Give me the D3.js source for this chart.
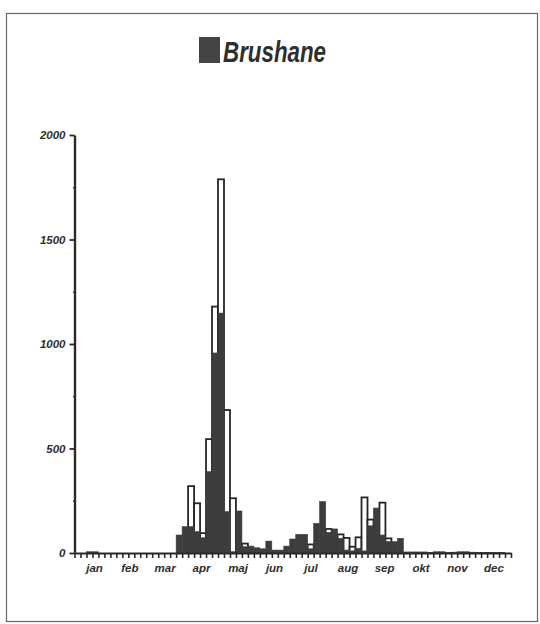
<!DOCTYPE html>
<html>
<head>
<meta charset="utf-8">
<script src="https://cdn.jsdelivr.net/npm/d3@7"></script>
<style>
  html, body { margin: 0; padding: 0; background: #fff; }
  svg { display: block; }
  text { font-family: "Liberation Sans", Arial, sans-serif; font-weight: bold; font-style: italic; fill: #2e2e2e; }
</style>
</head>
<body>
<svg id="chart" width="540" height="624"></svg>
<script>
// Month names and the day of the year each month starts on
const months = ["jan", "feb", "mar", "apr", "maj", "jun", "jul", "aug", "sep", "okt", "nov", "dec"];
const monthStart = [0, 31, 59, 90, 120, 151, 181, 212, 243, 273, 304, 334, 365];

// Y axis tick values
const yTicks = [0, 500, 1000, 1500, 2000];
const yMinorTicks = [250, 750, 1250, 1750];

// Five-day periods over the year (73 bins): Brushane counts (filled bars)
const brushane = [
  0, 0, 6, 6, 0, 0, 0, 0, 0, 0,
  0, 0, 0, 0, 0, 0, 0, 86, 126, 126,
  102, 73, 389, 957, 1148, 198, 6, 201, 30, 33,
  25, 20, 57, 14, 14, 33, 67, 89, 89, 20,
  142, 246, 99, 115, 70, 14, 10, 22, 10, 130,
  215, 86, 55, 54, 70, 5, 5, 5, 5, 3,
  6, 6, 3, 4, 6, 6, 4, 3, 3, 3,
  3, 3, 0
];

// Same periods: counts drawn as open bars behind the filled ones
const openBars = [
  0, 0, 0, 0, 0, 0, 0, 0, 0, 0,
  0, 0, 0, 0, 0, 0, 0, 0, 0, 320,
  238, 95, 545, 1179, 1788, 684, 262, 0, 45, 0,
  0, 0, 0, 0, 0, 0, 0, 0, 0, 41,
  0, 0, 115, 0, 89, 72, 30, 75, 266, 160,
  0, 241, 70, 0, 0, 0, 0, 0, 0, 0,
  0, 0, 0, 0, 0, 0, 0, 0, 0, 0,
  0, 0, 0
];

const svg = d3.select("#chart");

// Page frame
svg.append("rect")
  .attr("x", 6.5).attr("y", 13.5)
  .attr("width", 531).attr("height", 608)
  .attr("fill", "none").attr("stroke", "#666").attr("stroke-width", 1.2);

const plot = { left: 74.5, right: 511, top: 135, bottom: 553 };
const nBins = brushane.length;

const x = d3.scaleLinear().domain([0, nBins]).range([plot.left, plot.right]);
const xDay = d3.scaleLinear().domain([0, 365]).range([plot.left, plot.right]);
const y = d3.scaleLinear().domain([0, 2000]).range([plot.bottom, plot.top]);

const bins = d3.range(nBins);

// Open bars first, filled bars drawn over them
svg.append("g")
  .selectAll("rect")
  .data(bins.filter(i => openBars[i] > 0))
  .join("rect")
  .attr("x", i => x(i))
  .attr("y", i => y(openBars[i]))
  .attr("width", i => x(i + 1) - x(i))
  .attr("height", i => y(0) - y(openBars[i]))
  .attr("fill", "#fff")
  .attr("stroke", "#262626")
  .attr("stroke-width", 1.8);

svg.append("g")
  .selectAll("rect")
  .data(bins.filter(i => brushane[i] > 0))
  .join("rect")
  .attr("x", i => x(i))
  .attr("y", i => y(brushane[i]))
  .attr("width", i => x(i + 1) - x(i))
  .attr("height", i => y(0) - y(brushane[i]))
  .attr("fill", "#3d3d3d")
  .attr("stroke", "#3d3d3d")
  .attr("stroke-width", 0.6);

// Y axis with major and minor ticks
const yAxis = svg.append("g")
  .attr("transform", `translate(${plot.left},0)`)
  .call(d3.axisLeft(y).tickValues(yTicks).tickFormat(d3.format("d"))
    .tickSize(5).tickPadding(4).tickSizeOuter(0));
yAxis.select(".domain").attr("stroke", "#2a2a2a").attr("stroke-width", 2.4);
yAxis.selectAll(".tick line").attr("stroke", "#2a2a2a").attr("stroke-width", 1.8);
yAxis.selectAll(".tick text")
  .attr("font-size", 11.5)
  .attr("font-family", "Liberation Sans, Arial, sans-serif")
  .attr("font-weight", "bold")
  .attr("font-style", "italic")
  .attr("fill", "#2e2e2e");

const yMinor = svg.append("g")
  .attr("transform", `translate(${plot.left + 1.5},0)`)
  .call(d3.axisLeft(y).tickValues(yMinorTicks).tickSize(3).tickFormat("").tickSizeOuter(0));
yMinor.select(".domain").remove();
yMinor.selectAll(".tick line").attr("stroke", "#2a2a2a").attr("stroke-width", 1.4);

// X axis: one tick per five-day period
const xAxis = svg.append("g")
  .attr("transform", `translate(0,${plot.bottom})`)
  .call(d3.axisBottom(x).tickValues(d3.range(nBins + 1)).tickSize(5).tickFormat("").tickSizeOuter(0));
xAxis.select(".domain").attr("stroke", "#2a2a2a").attr("stroke-width", 2.2);
xAxis.selectAll(".tick line").attr("stroke", "#2a2a2a").attr("stroke-width", 1.6);

// Month labels centred on each month
svg.append("g")
  .selectAll("text")
  .data(months)
  .join("text")
  .attr("x", (m, i) => xDay((monthStart[i] + monthStart[i + 1]) / 2) + 1.5)
  .attr("y", plot.bottom + 18.5)
  .attr("text-anchor", "middle")
  .attr("font-size", 11.5)
  .text(m => m);

// Title with legend swatch
svg.append("rect")
  .attr("x", 199).attr("y", 37)
  .attr("width", 21).attr("height", 26)
  .attr("fill", "#444");
svg.append("text")
  .attr("x", 223).attr("y", 62)
  .attr("font-size", 30)
  .attr("textLength", 103)
  .attr("lengthAdjust", "spacingAndGlyphs")
  .attr("fill", "#3a3a3a")
  .text("Brushane");
</script>
</body>
</html>
